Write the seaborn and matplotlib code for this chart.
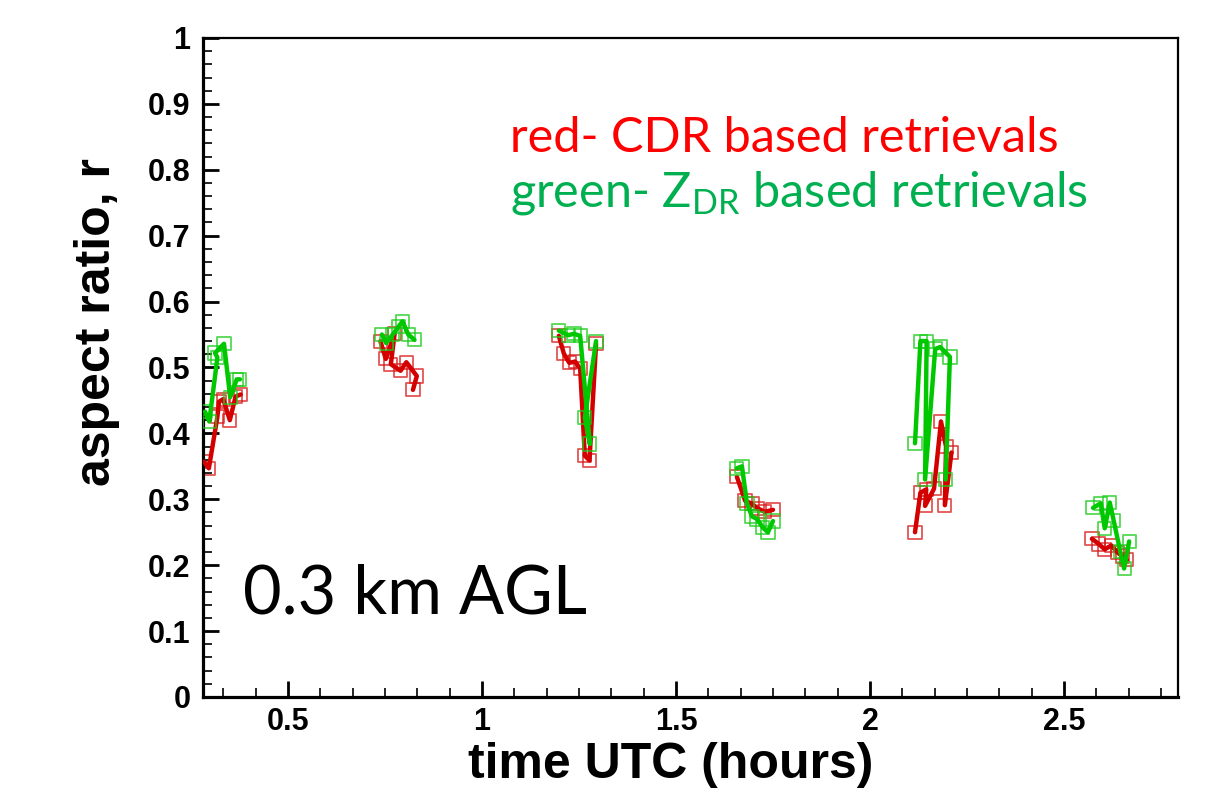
import numpy as np
import pandas as pd
import matplotlib
matplotlib.use("Agg")
import matplotlib.pyplot as plt
from matplotlib.ticker import AutoMinorLocator, MultipleLocator, FuncFormatter
import seaborn as sns

# CDR based retrievals (red), one pass id per cluster
cdr_pass = [1]*8 + [2]*8 + [3]*8 + [4]*6 + [5]*9 + [6]*7
cdr_time = [0.283, 0.296, 0.318, 0.322, 0.333, 0.350, 0.365, 0.378,
            0.738, 0.752, 0.775, 0.765, 0.790, 0.805, 0.832, 0.822,
            1.198, 1.211, 1.225, 1.240, 1.253, 1.265, 1.277, 1.294,
            1.657, 1.678, 1.696, 1.711, 1.729, 1.750,
            2.116, 2.130, 2.145, 2.142, 2.165, 2.183, 2.196, 2.193, 2.210,
            2.572, 2.590, 2.605, 2.622, 2.638, 2.650, 2.662]
cdr_r = [0.357, 0.347, 0.425, 0.448, 0.452, 0.420, 0.456, 0.459,
         0.540, 0.513, 0.552, 0.505, 0.495, 0.508, 0.487, 0.466,
         0.548, 0.521, 0.507, 0.509, 0.498, 0.366, 0.359, 0.536,
         0.334, 0.298, 0.293, 0.286, 0.281, 0.284,
         0.250, 0.310, 0.315, 0.290, 0.316, 0.418, 0.380, 0.291, 0.371,
         0.240, 0.232, 0.224, 0.230, 0.219, 0.214, 0.208]

# ZDR based retrievals (green)
zdr_pass = [1]*8 + [2]*7 + [3]*7 + [4]*8 + [5]*8 + [6]*8
zdr_time = [0.286, 0.297, 0.318, 0.312, 0.335, 0.351, 0.368, 0.376,
            0.742, 0.753, 0.770, 0.785, 0.795, 0.810, 0.826,
            1.198, 1.222, 1.237, 1.253, 1.278, 1.265, 1.294,
            1.657, 1.670, 1.683, 1.696, 1.709, 1.724, 1.737, 1.750,
            2.116, 2.130, 2.146, 2.142, 2.168, 2.181, 2.206, 2.195,
            2.575, 2.595, 2.605, 2.618, 2.628, 2.645, 2.655, 2.668]
zdr_r = [0.433, 0.418, 0.515, 0.522, 0.536, 0.455, 0.482, 0.482,
         0.550, 0.537, 0.550, 0.562, 0.570, 0.550, 0.542,
         0.556, 0.549, 0.551, 0.548, 0.384, 0.424, 0.540,
         0.347, 0.350, 0.293, 0.274, 0.270, 0.257, 0.250, 0.267,
         0.385, 0.540, 0.540, 0.330, 0.528, 0.531, 0.516, 0.330,
         0.287, 0.294, 0.256, 0.295, 0.268, 0.221, 0.195, 0.236]

red = "#d40000"
green = "#00c800"

cdr = pd.DataFrame({"time": cdr_time, "r": cdr_r, "pass": cdr_pass})
zdr = pd.DataFrame({"time": zdr_time, "r": zdr_r, "pass": zdr_pass})

sns.set_style("white")
plt.rcParams["font.family"] = ["Liberation Sans", "DejaVu Sans"]

fig = plt.figure(figsize=(12.18, 7.96), dpi=100)
ax = fig.add_axes([0.1667, 0.1244, 0.8005, 0.8279])

# 先画点再画线
sns.scatterplot(data=cdr, x="time", y="r", marker="s", s=90, facecolor="none",
                edgecolor=(0.85, 0.1, 0.1, 0.75), linewidth=1.3, ax=ax, zorder=2)
sns.lineplot(data=cdr, x="time", y="r", units="pass", estimator=None, sort=False,
             color=red, linewidth=3.2, ax=ax, zorder=3)
sns.scatterplot(data=zdr, x="time", y="r", marker="s", s=90, facecolor="none",
                edgecolor=(0.1, 0.8, 0.1, 0.75), linewidth=1.3, ax=ax, zorder=4)
sns.lineplot(data=zdr, x="time", y="r", units="pass", estimator=None, sort=False,
             color=green, linewidth=3.2, ax=ax, zorder=5)

ax.set_xlim(0.281, 2.794)
ax.set_ylim(0, 1)
ax.xaxis.set_major_locator(MultipleLocator(0.5))
ax.xaxis.set_minor_locator(AutoMinorLocator(6))
ax.yaxis.set_major_locator(MultipleLocator(0.1))
ax.yaxis.set_minor_locator(AutoMinorLocator(5))
fmt = FuncFormatter(lambda v, p: "%g" % round(v, 3))
ax.xaxis.set_major_formatter(fmt)
ax.yaxis.set_major_formatter(fmt)

ax.tick_params(which="major", direction="in", length=11.5, width=2.0,
               labelsize=22, bottom=True, left=True, top=False, right=False,
               color="black", labelcolor="black")
ax.tick_params(which="minor", direction="in", length=6.5, width=1.2,
               bottom=True, left=True, top=False, right=False, color="black")
ax.tick_params(axis="y", which="major", pad=9)
ax.tick_params(axis="x", which="major", pad=7)
for lab in ax.get_xticklabels() + ax.get_yticklabels():
    lab.set_fontweight("bold")

for side in ["left", "bottom"]:
    ax.spines[side].set_linewidth(2.3)
for side in ["top", "right"]:
    ax.spines[side].set_linewidth(1.6)
for sp in ax.spines.values():
    sp.set_color("black")

ax.set_xlabel("time UTC (hours)", fontsize=36, fontweight="bold", color="black")
ax.set_ylabel("aspect ratio, r", fontsize=36, fontweight="bold", color="black")
ax.xaxis.set_label_coords(0.48, -0.068)
ax.yaxis.set_label_coords(-0.085, 0.569)

ax.text(0.315, 0.827, "red- CDR based retrievals", transform=ax.transAxes,
        color="#ff0000", fontsize=35, family="Lato", va="baseline")
ax.text(0.315, 0.744, r"green- $\mathregular{Z_{DR}}$ based retrievals",
        transform=ax.transAxes, color="#00b050", fontsize=35, family="Lato",
        va="baseline")
ax.text(0.041, 0.127, "0.3 km AGL", transform=ax.transAxes, color="black",
        fontsize=48, family="Lato", va="baseline")

fig.savefig("out.png", dpi=100)
